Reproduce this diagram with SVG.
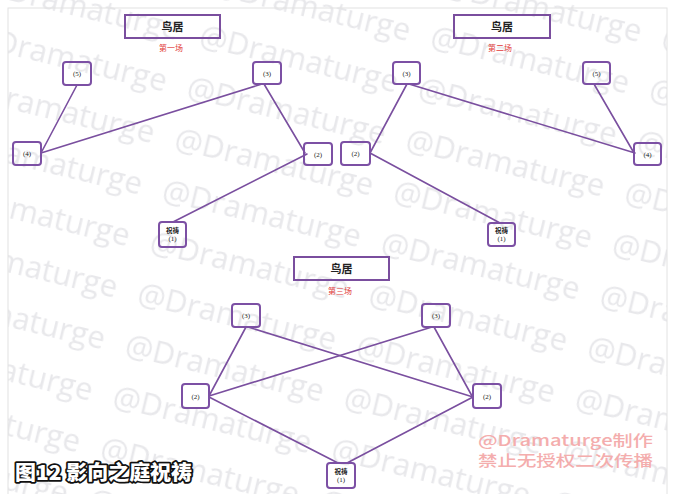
<svg xmlns="http://www.w3.org/2000/svg" width="673" height="494" viewBox="0 0 673 494">
<style>
.wm{font-family:"Open Sans","Noto Sans",sans-serif;font-size:31px;fill:#e8e8eb}
.edge{stroke:#7a4f9f;stroke-width:1.6;fill:none;stroke-linecap:round}
.nb{fill:none;stroke:#7c50a4;stroke-width:2}
.tb{fill:none;stroke:#7a4e9e;stroke-width:2}
.nt{font-family:"Liberation Serif","Noto Sans CJK SC",serif;font-size:7px;fill:#222;text-anchor:middle}
.nt2{font-family:"Liberation Serif","Noto Sans CJK SC",serif;font-size:6.5px;fill:#222;text-anchor:middle;font-weight:bold}
.tt{font-family:"Liberation Serif","Noto Sans CJK SC",serif;font-size:11px;fill:#222;text-anchor:middle;font-weight:bold}
.sc{font-family:"Liberation Serif","Noto Sans CJK SC",serif;font-size:8px;fill:#e23a3a;text-anchor:middle}
.cap{font-family:"Noto Sans CJK SC",sans-serif;font-size:20px;font-weight:900;fill:#fff;stroke:#111;stroke-width:3.5;paint-order:stroke;stroke-linejoin:round}
.red{font-family:"Noto Sans CJK SC",sans-serif;font-size:15px;font-weight:500;fill:#f4adad}
</style>
<defs>
<pattern id="wmp" patternUnits="userSpaceOnUse" x="428" y="21" width="225" height="53" patternTransform="rotate(13.5)">
<text class="wm" x="0" y="30">@Dramaturge</text>
</pattern>
<clipPath id="frame"><rect x="8" y="0" width="659" height="494"/></clipPath>
</defs>
<rect x="0" y="0" width="673" height="494" fill="#fff"/>
<g id="watermark" clip-path="url(#frame)">
<rect x="8" y="0" width="659" height="494" fill="url(#wmp)"/>
</g>
<rect x="8" y="8" width="659" height="490" fill="none" stroke="#e2e2e2" stroke-width="1"/>

<g id="connectors">
<line class="edge" x1="77" y1="85" x2="41" y2="153"/>
<line class="edge" x1="262" y1="84" x2="41" y2="153"/>
<line class="edge" x1="264" y1="84" x2="305" y2="153"/>
<line class="edge" x1="307" y1="154" x2="173" y2="222"/>
<line class="edge" x1="407" y1="84" x2="370" y2="153"/>
<line class="edge" x1="409" y1="84" x2="635" y2="153"/>
<line class="edge" x1="594" y1="84" x2="634" y2="153"/>
<line class="edge" x1="370" y1="153" x2="500" y2="223"/>
<line class="edge" x1="246" y1="327" x2="209" y2="396"/>
<line class="edge" x1="248" y1="327" x2="473" y2="397"/>
<line class="edge" x1="432" y1="327" x2="209" y2="396"/>
<line class="edge" x1="434" y1="327" x2="472" y2="396"/>
<line class="edge" x1="209" y1="397" x2="338" y2="463"/>
<line class="edge" x1="473" y1="397" x2="347" y2="463"/>
</g>

<g id="title1"><rect class="tb" x="125" y="15" width="95" height="23"/><text class="tt" x="172.5" y="31">鸟居</text><text class="sc" x="171" y="51">第一场</text></g>
<g id="s1-n5"><rect class="nb" x="63" y="62" width="28" height="23" rx="3"/><text class="nt" x="77" y="76">(5)</text></g>
<g id="s1-n3"><rect class="nb" x="253" y="62" width="28" height="22" rx="3"/><text class="nt" x="267" y="75.5">(3)</text></g>
<g id="s1-n4"><rect class="nb" x="13" y="142" width="28" height="23" rx="3"/><text class="nt" x="27" y="156">(4)</text></g>
<g id="s1-n2"><rect class="nb" x="304" y="143" width="28" height="22" rx="3"/><text class="nt" x="318" y="156.5">(2)</text></g>
<g id="s1-n1"><rect class="nb" x="159" y="222" width="27" height="25" rx="3"/><text class="nt2" x="172.5" y="233">祝祷</text><text class="nt" x="172.5" y="241">(1)</text></g>

<g id="title2"><rect class="tb" x="454" y="15" width="96" height="23"/><text class="tt" x="502" y="31">鸟居</text><text class="sc" x="500" y="51">第二场</text></g>
<g id="s2-n3"><rect class="nb" x="393" y="62" width="27" height="22" rx="3"/><text class="nt" x="406.5" y="75.5">(3)</text></g>
<g id="s2-n5"><rect class="nb" x="583" y="62" width="27" height="22" rx="3"/><text class="nt" x="596.5" y="75.5">(5)</text></g>
<g id="s2-n2"><rect class="nb" x="341" y="142" width="29" height="23" rx="3"/><text class="nt" x="355.5" y="156">(2)</text></g>
<g id="s2-n4"><rect class="nb" x="634" y="143" width="27" height="22" rx="3"/><text class="nt" x="647.5" y="156.5">(4)</text></g>
<g id="s2-n1"><rect class="nb" x="488" y="223" width="27" height="23" rx="3"/><text class="nt2" x="501.5" y="233">祝祷</text><text class="nt" x="501.5" y="241">(1)</text></g>

<g id="title3"><rect class="tb" x="294" y="257" width="95" height="23"/><text class="tt" x="341.5" y="273">鸟居</text><text class="sc" x="340" y="294">第三场</text></g>
<g id="s3-n3a"><rect class="nb" x="232" y="304" width="28" height="23" rx="3"/><text class="nt" x="246" y="318">(3)</text></g>
<g id="s3-n3b"><rect class="nb" x="422" y="304" width="28" height="23" rx="3"/><text class="nt" x="436" y="318">(3)</text></g>
<g id="s3-n2a"><rect class="nb" x="182" y="384" width="27" height="24" rx="3"/><text class="nt" x="195.5" y="398.5">(2)</text></g>
<g id="s3-n2b"><rect class="nb" x="473" y="384" width="28" height="24" rx="3"/><text class="nt" x="487" y="398.5">(2)</text></g>
<g id="s3-n1"><rect class="nb" x="327" y="463" width="28" height="25" rx="3"/><text class="nt2" x="341" y="474">祝祷</text><text class="nt" x="341" y="482">(1)</text></g>

<g id="caption"><text class="cap" x="15" y="480" textLength="177" lengthAdjust="spacingAndGlyphs">图12 影向之庭祝祷</text></g>
<g id="credit">
<text class="red" x="478" y="446" textLength="175" lengthAdjust="spacingAndGlyphs">@Dramaturge制作</text>
<text class="red" x="478" y="466" textLength="175" lengthAdjust="spacingAndGlyphs">禁止无授权二次传播</text>
</g>
</svg>
